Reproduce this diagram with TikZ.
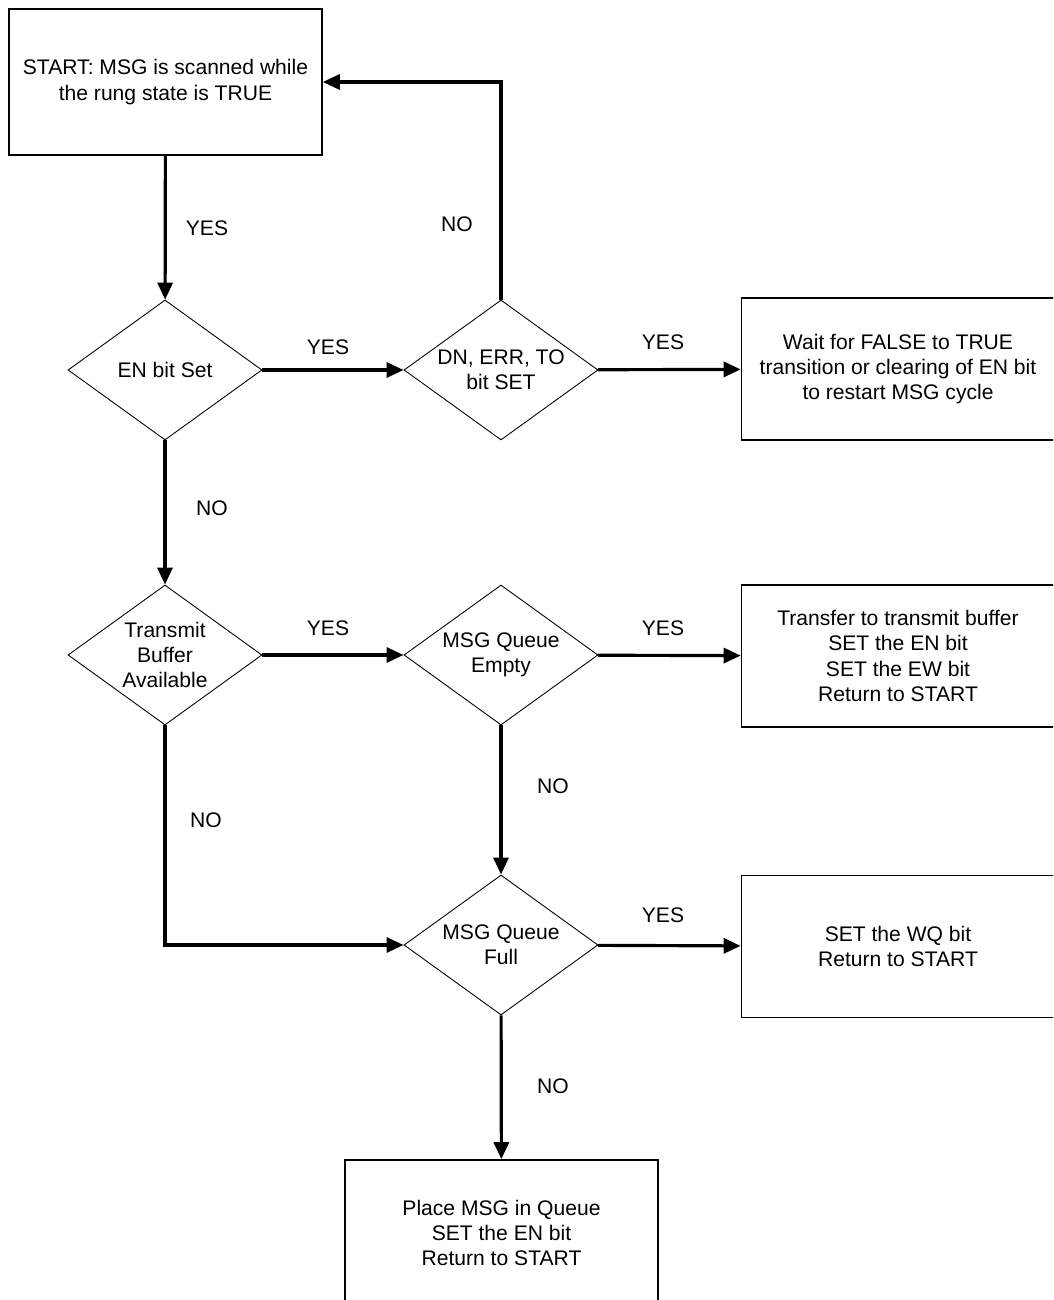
\documentclass[tikz,border=0pt]{standalone}
\usepackage{fontspec}
\setmainfont{Liberation Sans}
\usetikzlibrary{shapes.geometric,arrows.meta}

\begin{document}
\begin{tikzpicture}[
    font=\fontsize{12}{14.4}\selectfont,
    block/.style={rectangle, draw, line width=0.9pt, minimum width=6.26cm, minimum height=2.84cm, align=center},
    decision/.style={diamond, draw, line width=0.5pt, minimum width=3.88cm, minimum height=2.8cm, inner xsep=-0.4cm, inner ysep=0pt, align=center},
    arrow/.style={-{Triangle[length=3.4mm, width=3mm]}, line width=1.8pt},
    answer/.style={inner sep=0pt}
]
\useasboundingbox (0,0) rectangle (21.06,26);
\clip (0,0) rectangle (21.06,26);

% Start
\node[block, minimum height=2.92cm] (start) at (3.31,24.36) {START: MSG is scanned while\\the rung state is TRUE};

% First row
\node[decision] (enset) at (3.3,18.6) {EN bit Set};
\node[decision] (dnset) at (10.02,18.6) {DN, ERR, TO\\bit SET};
\node[block] (wait) at (17.96,18.62) {Wait for FALSE to TRUE\\transition or clearing of EN bit\\to restart MSG cycle};

\draw[arrow] (start) -- (enset);
\draw[arrow] (enset) -- (dnset);
\draw[arrow] (dnset) -- (wait);
\draw[arrow] (dnset.north) |- (start.east);

\node[answer] (yes1) at (4.14,21.44) {YES};
\node[answer] (yes2) at (6.56,19.06) {YES};
\node[answer] (no1) at (9.14,21.52) {NO};
\node[answer] (yes3) at (13.26,19.16) {YES};

% Second row
\node[decision] (txbuf) at (3.3,12.9) {Transmit\\Buffer\\Available};
\node[decision] (qempty) at (10.02,12.9) {MSG Queue\\Empty};
\node[block] (xfer) at (17.96,12.88) {Transfer to transmit buffer\\SET the EN bit\\SET the EW bit\\Return to START};

\draw[arrow] (enset) -- (txbuf);
\draw[arrow] (txbuf) -- (qempty);
\draw[arrow] (qempty) -- (xfer);

\node[answer] (no2) at (4.24,15.84) {NO};
\node[answer] (yes4) at (6.56,13.44) {YES};
\node[answer] (yes5) at (13.26,13.44) {YES};

% Third row
\node[decision] (qfull) at (10.02,7.1) {MSG Queue\\Full};
\node[block] (wqset) at (17.96,7.07) {SET the WQ bit\\Return to START};

\draw[arrow] (qempty) -- (qfull);
\draw[arrow] (txbuf.south) |- (qfull.west);
\draw[arrow] (qfull) -- (wqset);

\node[answer] (no3) at (11.06,10.28) {NO};
\node[answer] (no4) at (4.12,9.6) {NO};
\node[answer] (yes6) at (13.26,7.7) {YES};

% Bottom
\node[block, minimum height=2.92cm] (place) at (10.03,1.34) {Place MSG in Queue\\SET the EN bit\\Return to START};

\draw[arrow] (qfull) -- (place);

\node[answer] (no5) at (11.06,4.28) {NO};

\end{tikzpicture}
\end{document}
